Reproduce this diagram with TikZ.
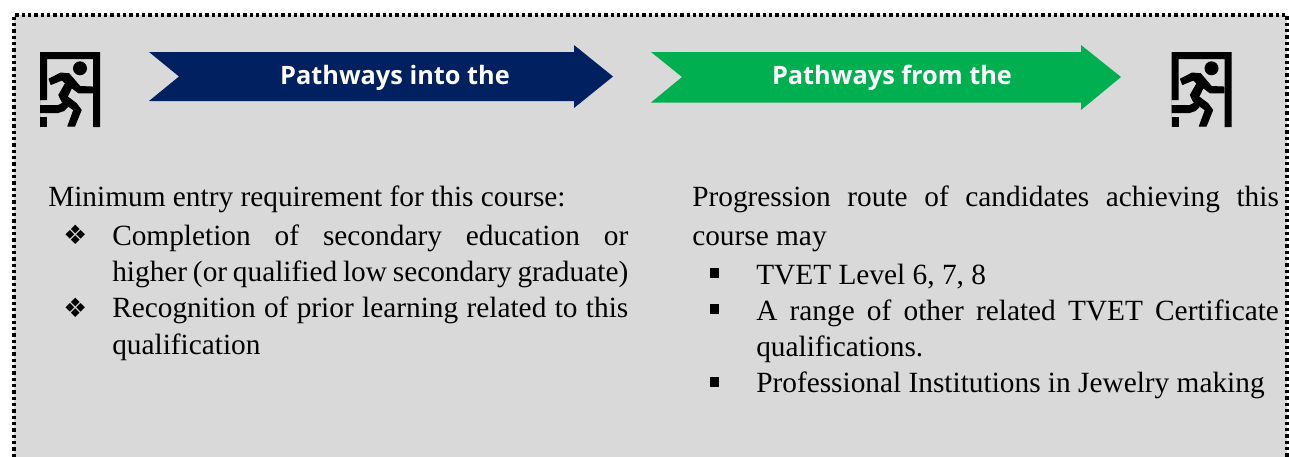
\documentclass[tikz,border=0pt]{standalone}
\usepackage{fontspec}
\setmainfont{Liberation Serif}
\newfontfamily\headfont{Open Sans}[BoldFont={Open Sans Bold}]
\newfontfamily\symfont{DejaVu Sans}
\definecolor{panelgray}{HTML}{D9D9D9}
\definecolor{navyarrow}{HTML}{002060}
\definecolor{greenarrow}{HTML}{00B050}
\newcommand{\bodysize}{\fontsize{22pt}{26pt}\selectfont}
\newcommand{\jline}[1]{\bodysize\makebox[\linew][s]{#1}}
\newlength{\linew}
\tikzset{
  x=0.75pt,y=-0.75pt,
  panel/.style={fill=panelgray,draw=none},
  dotborder/.style={draw=black,line width=2.6pt,dash pattern=on 2.5pt off 2.25pt},
  pathhead/.style={text=white,font=\headfont\bfseries\fontsize{19pt}{23pt}\selectfont,anchor=base,inner sep=0pt},
  bodytext/.style={anchor=base west,inner sep=0pt,font=\bodysize,text=black},
  bullettext/.style={anchor=base west,inner sep=0pt,text=black},
  exitdoor/.pic={
    \fill[black] (0,75)--(0,0)--(60,0)--(60,75)--(53,75)--(53,7)--(7,7)--(7,48)--(0,48)--cycle;
    \fill[black] (0,53)--(18,53)--(24,50)--(28,55)--(24,59)--(18,61)--(0,61)--cycle;
    \fill[black] (0,65)--(7,65)--(7,75)--(0,75)--cycle;
    \fill[black] (40,16.3) circle (7);
    \filldraw[black,line width=0.7pt,line join=round] (9,27)--(20.7,21)--(29,21.7)--(40,34.5)--(52.5,35)--(52.5,40.8)--(38.5,40.8)--(31.7,35.7)--(27.3,44.7)--(36.3,51.5)--(41.2,58)--(34.7,74.2)--(27.8,74.2)--(33.8,58)--(22,49.7)--(18.8,43)--(25.5,31.3)--(22,28)--(11,32.5)--cycle;
  }
}
\begin{document}
\begin{tikzpicture}
\useasboundingbox (0,0) rectangle (1289,457);
\fill[panel] (14,15) rectangle (1287,457);
\draw[dotborder] (14,457)--(14,15)--(1287,15)--(1287,457);
\pic at (40,52) {exitdoor};
\pic at (1171.5,52) {exitdoor};
\fill[navyarrow] (149,52)--(574,52)--(574,45)--(613,76.5)--(574,108)--(574,101)--(149,101)--(179,76.5)--cycle;
\fill[greenarrow] (651,52)--(1081,52)--(1081,45)--(1121,77)--(1081,110)--(1081,102.5)--(651,102.5)--(682,77)--cycle;
\node[pathhead] (a) at (395,84.5) {Pathways into the};
\node[pathhead] (b) at (892,84.5) {Pathways from the};
\setlength{\linew}{387pt}
\node[bodytext] (l1) at (48,206) {Minimum entry requirement for this course:};
\node[bullettext] (lb1) at (63,244.5) {\symfont\fontsize{20pt}{22pt}\selectfont ❖};
\node[bullettext] (l2) at (112,245) {\jline{Completion of secondary education or}};
\node[bullettext] (l3) at (112,281) {\jline{higher (or qualified low secondary graduate)}};
\node[bullettext] (lb2) at (63,317.5) {\symfont\fontsize{20pt}{22pt}\selectfont ❖};
\node[bullettext] (l4) at (112,317.7) {\jline{Recognition of prior learning related to this}};
\node[bodytext] (l5) at (112,354) {qualification};
\setlength{\linew}{440pt}
\node[bullettext] (r1) at (692,206) {\jline{Progression route of candidates achieving this}};
\node[bodytext] (r2) at (692,245) {course may};
\fill[black] (710,268) rectangle (719,278);
\node[bodytext] (r3) at (756,284) {TVET Level 6, 7, 8};
\fill[black] (710,304) rectangle (719,314);
\setlength{\linew}{392pt}
\node[bullettext] (r4) at (756,320) {\jline{A range of other related TVET Certificate}};
\node[bodytext] (r5) at (756,356) {qualifications.};
\fill[black] (710,377) rectangle (719,387);
\node[bodytext] (r6) at (756,392.7) {Professional Institutions in Jewelry making};
\end{tikzpicture}
\end{document}
